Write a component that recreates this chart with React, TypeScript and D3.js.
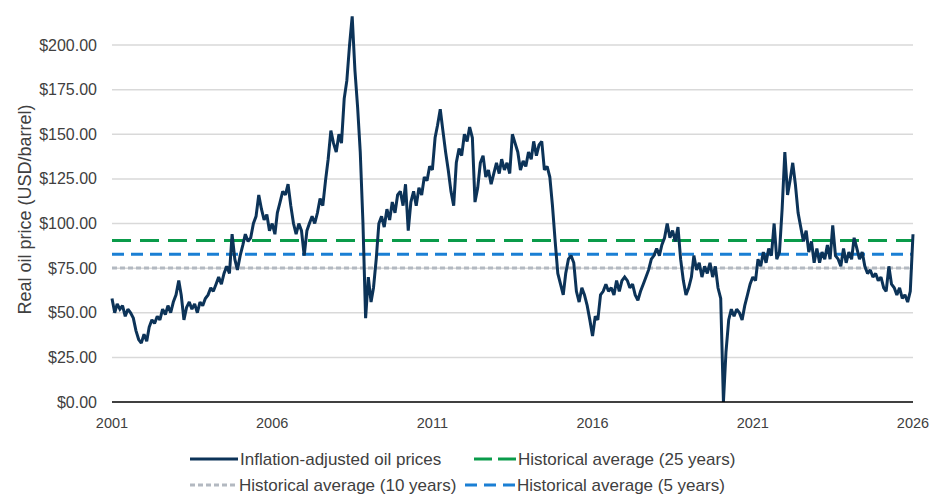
import { useEffect, useRef } from "react";
import * as d3 from "d3";

// Monthly real oil price (USD/barrel), Jan 2001 .. Jan 2026
const startYear = 2001;
const monthlyPrices: number[] = [
  // 2001
  58, 50, 55, 52, 54, 48, 52, 50, 47, 40, 35, 33,
  // 2002
  38, 34, 42, 46, 44, 48, 46, 52, 49, 54, 50, 56,
  // 2003
  60, 68, 60, 46, 53, 56, 52, 55, 50, 56, 54, 58,
  // 2004
  60, 64, 62, 66, 70, 66, 72, 76, 72, 94, 80, 74,
  // 2005
  82, 88, 94, 90, 92, 100, 104, 116, 108, 102, 105, 96,
  // 2006
  100, 94, 106, 112, 118, 116, 122, 110, 100, 94, 100, 96,
  // 2007
  82, 96, 100, 104, 100, 106, 114, 110, 124, 136, 152, 145,
  // 2008
  140, 150, 145, 170, 180, 200, 216, 186, 165, 140, 100, 47,
  // 2009
  70, 56, 64, 80, 100, 104, 98, 108, 102, 112, 106, 116,
  // 2010
  118, 110, 122, 96, 112, 118, 110, 120, 116, 126, 124, 132,
  // 2011
  130, 148, 155, 164, 152, 140, 130, 118, 110, 134, 142, 138,
  // 2012
  150, 146, 154, 148, 112, 120, 134, 138, 126, 130, 122, 128,
  // 2013
  134, 128, 136, 130, 134, 128, 150, 145, 140, 130, 135, 132,
  // 2014
  140, 136, 146, 138, 144, 146, 130, 132, 126, 110, 90, 72,
  // 2015
  66, 60, 72, 80, 82, 78, 62, 56, 64, 60, 54, 46,
  // 2016
  37, 48, 46, 60, 62, 66, 62, 64, 60, 68, 62, 68,
  // 2017
  70, 68, 64, 66, 60, 57, 62, 66, 70, 74, 80, 82,
  // 2018
  86, 82, 88, 92, 100, 92, 96, 90, 98, 80, 68, 60,
  // 2019
  64, 70, 82, 74, 78, 70, 76, 72, 78, 70, 76, 64,
  // 2020
  58, 0, 28, 46, 52, 48, 52, 50, 46, 54, 60, 66,
  // 2021
  70, 68, 80, 76, 84, 78, 86, 82, 100, 80, 84, 108,
  // 2022
  140, 116, 124, 134, 122, 106, 98, 90, 96, 84, 90, 78,
  // 2023
  86, 78, 84, 80, 88, 80, 99, 82, 80, 76, 86, 78,
  // 2024
  84, 80, 92, 86, 80, 84, 76, 72, 74, 70, 72, 68,
  // 2025
  70, 64, 62, 76, 66, 64, 60, 64, 58, 60, 56, 62,
  // 2026
  94,
];

const averages = [
  { label: "Historical average (25 years)", value: 90.5, color: "#0a9b4a", dash: "19 9", legendDash: "18 6" },
  { label: "Historical average (10 years)", value: 75.1, color: "#b3b9c1", dash: "5 3", legendDash: "5 3" },
  { label: "Historical average (5 years)", value: 82.8, color: "#1a7fd4", dash: "12 7", legendDash: "12 7" },
];

const yTicks = [0, 25, 50, 75, 100, 125, 150, 175, 200];
const xTickYears = [2001, 2006, 2011, 2016, 2021, 2026];

export default function App() {
  const svgRef = useRef<SVGSVGElement>(null);

  useEffect(() => {
    document.body.style.margin = "0";
    if (!svgRef.current) return;
    const svg = d3.select(svgRef.current);
    svg.selectAll("*").remove();

    const width = 940;
    const height = 496;
    const left = 112;
    const right = 913;
    const top = 45;
    const bottom = 402;
    const font = "'Liberation Sans', Arial, sans-serif";
    const textColor = "#404040";

    const points = monthlyPrices.map((v, i) => ({
      date: new Date(startYear, i, 1),
      value: v,
    }));

    const x = d3
      .scaleTime()
      .domain([new Date(2001, 0, 1), new Date(2026, 0, 1)])
      .range([left, right]);
    const y = d3.scaleLinear().domain([0, 200]).range([bottom, top]);

    svg.attr("width", width).attr("height", height).attr("viewBox", `0 0 ${width} ${height}`);

    // gridlines
    svg
      .append("g")
      .selectAll("line")
      .data(yTicks.filter((t) => t > 0))
      .enter()
      .append("line")
      .attr("x1", left)
      .attr("x2", right)
      .attr("y1", (d) => y(d))
      .attr("y2", (d) => y(d))
      .attr("stroke", "#d9d9d9")
      .attr("stroke-width", 1.5);

    // y tick labels
    svg
      .append("g")
      .selectAll("text")
      .data(yTicks)
      .enter()
      .append("text")
      .attr("x", 97)
      .attr("y", (d) => y(d))
      .attr("dy", "0.35em")
      .attr("text-anchor", "end")
      .attr("font-family", font)
      .attr("font-size", 16)
      .attr("fill", textColor)
      .text((d) => `$${d.toFixed(2)}`);

    // x tick labels
    svg
      .append("g")
      .selectAll("text")
      .data(xTickYears)
      .enter()
      .append("text")
      .attr("x", (d) => x(new Date(d, 0, 1)))
      .attr("y", 423)
      .attr("dy", "0.35em")
      .attr("text-anchor", "middle")
      .attr("font-family", font)
      .attr("font-size", 14.5)
      .attr("fill", textColor)
      .text((d) => String(d));

    // y axis title
    svg
      .append("text")
      .attr("transform", `translate(25, ${(top + bottom) / 2 - 14}) rotate(-90)`)
      .attr("dy", "0.35em")
      .attr("text-anchor", "middle")
      .attr("font-family", font)
      .attr("font-size", 18)
      .attr("fill", textColor)
      .text("Real oil price (USD/barrel)");

    // average lines
    svg
      .append("g")
      .selectAll("line")
      .data(averages)
      .enter()
      .append("line")
      .attr("x1", left)
      .attr("x2", right)
      .attr("y1", (d) => y(d.value))
      .attr("y2", (d) => y(d.value))
      .attr("stroke", (d) => d.color)
      .attr("stroke-width", 3)
      .attr("stroke-dasharray", (d) => d.dash);

    // price line
    const line = d3
      .line<{ date: Date; value: number }>()
      .x((d) => x(d.date))
      .y((d) => y(d.value));

    svg
      .append("path")
      .datum(points)
      .attr("d", line)
      .attr("fill", "none")
      .attr("stroke", "#0c3358")
      .attr("stroke-width", 3)
      .attr("stroke-linejoin", "miter")
      .attr("stroke-miterlimit", 2);

    // x axis line
    svg
      .append("line")
      .attr("x1", left)
      .attr("x2", right)
      .attr("y1", bottom)
      .attr("y2", bottom)
      .attr("stroke", "#000")
      .attr("stroke-width", 1.5);

    // legend
    const legendItems = [
      { label: "Inflation-adjusted oil prices", color: "#0c3358", x1: 190, x2: 238, row: 0, legendDash: "" },
      { ...averages[0], x1: 474, x2: 516, row: 0 },
      { ...averages[1], x1: 190, x2: 237, row: 1 },
      { ...averages[2], x1: 465, x2: 515, row: 1 },
    ];
    const legend = svg.append("g");
    legendItems.forEach((item) => {
      const ly = 459 + item.row * 26;
      legend
        .append("line")
        .attr("x1", item.x1)
        .attr("x2", item.x2)
        .attr("y1", ly)
        .attr("y2", ly)
        .attr("stroke", item.color)
        .attr("stroke-width", 3)
        .attr("stroke-dasharray", item.legendDash);
      legend
        .append("text")
        .attr("x", item.x2 + 2)
        .attr("y", ly)
        .attr("dy", "0.35em")
        .attr("font-family", font)
        .attr("font-size", 17)
        .attr("fill", textColor)
        .text(item.label);
    });
  }, []);

  return <svg ref={svgRef} style={{ display: "block" }}></svg>;
}
